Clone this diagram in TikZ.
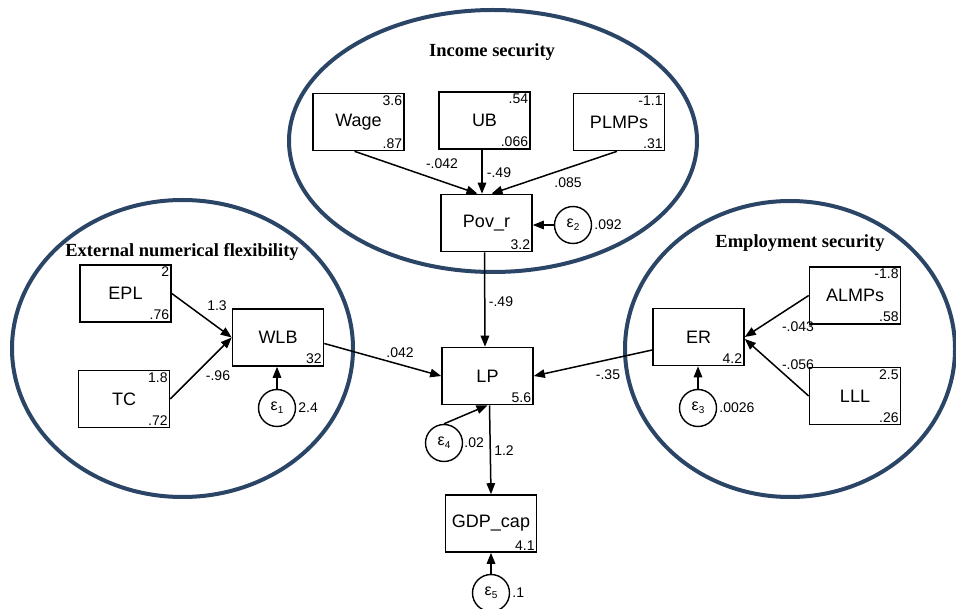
\documentclass[tikz,border=0pt]{standalone}
\usepackage{fontspec}
\setmainfont{Liberation Sans}
\newfontfamily\titlefont{Liberation Serif}
\usetikzlibrary{arrows.meta}
\definecolor{navy}{HTML}{2B4566}
\newcommand{\eps}[1]{{\fontsize{16}{16}\selectfont ε\raisebox{-0.35ex}{\fontsize{10}{10}\selectfont #1}}}
\tikzset{
  varbox/.style={draw, line width=1.6pt, minimum width=91pt, minimum height=57pt, inner sep=0pt, font=\fontsize{18}{18}\selectfont},
  tr/.style={anchor=north east, inner sep=2.5pt, font=\fontsize{14}{14}\selectfont},
  br/.style={anchor=south east, inner sep=2.5pt, font=\fontsize{14}{14}\selectfont},
  errc/.style={circle, draw, line width=1.4pt, minimum size=37pt, inner sep=0pt},
  conn/.style={line width=1.5pt, -{Triangle[length=11pt,width=8.5pt]}},
  lbl/.style={inner sep=0pt, font=\fontsize{14}{14}\selectfont},
  grp/.style={draw=navy, line width=4pt},
  ttl/.style={inner sep=0pt, font=\titlefont\bfseries\fontsize{18.5}{18.5}\selectfont}
}
\begin{document}
\begin{tikzpicture}[x=1pt,y=-1pt]
\useasboundingbox (0,0) rectangle (956,609);
% group ellipses
\draw[grp] (493,141) ellipse [x radius=204pt, y radius=131pt];
\draw[grp] (182.5,348.5) ellipse [x radius=170.5pt, y radius=148.5pt];
\draw[grp] (790,349) ellipse [x radius=165pt, y radius=148pt];
\node[ttl] (t1) at (492,52) {Income security};
\node[ttl] (t2) at (182,252) {External numerical flexibility};
\node[ttl] (t3) at (800,243) {Employment security};
% boxes
\node[varbox] (wage) at (358.5,122) {Wage};
\node[tr] (wage1) at (wage.north east) {3.6};
\node[br] (wage2) at (wage.south east) {.87};
\node[varbox] (ub) at (484.5,120.5) {UB};
\node[tr] (ub1) at (ub.north east) {.54};
\node[br] (ub2) at (ub.south east) {.066};
\node[varbox] (plmps) at (619,122) {PLMPs};
\node[tr] (plmps1) at (plmps.north east) {-1.1};
\node[br] (plmps2) at (plmps.south east) {.31};
\node[varbox] (pov) at (486.5,223) {Pov\_r};
\node[br] (pov2) at (pov.south east) {3.2};
\node[varbox] (epl) at (125.5,293.5) {EPL};
\node[tr] (epl1) at (epl.north east) {2};
\node[br] (epl2) at (epl.south east) {.76};
\node[varbox] (tc) at (124,399) {TC};
\node[tr] (tc1) at (tc.north east) {1.8};
\node[br] (tc2) at (tc.south east) {.72};
\node[varbox] (wlb) at (278,337.5) {WLB};
\node[br] (wlb2) at (wlb.south east) {32};
\node[varbox] (almps) at (855,295.5) {ALMPs};
\node[tr] (almps1) at (almps.north east) {-1.8};
\node[br] (almps2) at (almps.south east) {.58};
\node[varbox] (lll) at (855,396) {LLL};
\node[tr] (lll1) at (lll.north east) {2.5};
\node[br] (lll2) at (lll.south east) {.26};
\node[varbox] (er) at (698.5,337) {ER};
\node[br] (er2) at (er.south east) {4.2};
\node[varbox] (lp) at (487.5,376) {LP};
\node[br] (lp2) at (lp.south east) {5.6};
\node[varbox] (gdp) at (491,523.5) {GDP\_cap};
\node[br] (gdp2) at (gdp.south east) {4.1};
% error terms
\node[errc] (e1) at (277,408) {\eps{1}};
\node[errc] (e2) at (573,225) {\eps{2}};
\node[errc] (e3) at (698,408) {\eps{3}};
\node[errc] (e4) at (444,443) {\eps{4}};
\node[errc] (e5) at (491,593) {\eps{5}};
\node[lbl, anchor=west] (v1) at ([xshift=2pt]e1.east) {2.4};
\node[lbl, anchor=west] (v2) at ([xshift=2pt]e2.east) {.092};
\node[lbl, anchor=west] (v3) at ([xshift=2pt]e3.east) {.0026};
\node[lbl, anchor=west] (v4) at ([xshift=1pt]e4.east) {.02};
\node[lbl, anchor=west] (v5) at ([xshift=2pt]e5.east) {.1};
% connectors
\draw[conn] ([xshift=-4pt]wage.south) -- ([xshift=-9pt]pov.north);
\draw[conn] ([xshift=-2.5pt]ub.south) -- ([xshift=-4.5pt]pov.north);
\draw[conn] ([xshift=-2pt]plmps.south) -- ([xshift=5pt]pov.north);
\draw[conn] (e2.west) -- (pov.east |- e2.west);
\draw[conn] ([xshift=-2pt]pov.south) -- ([xshift=-2.5pt]lp.north);
\draw[conn] (epl.east) -- (wlb.west);
\draw[conn] (tc.east) -- (wlb.west);
\draw[conn] (e1.north) -- (e1.north |- wlb.south);
\draw[conn] ([yshift=-6pt]wlb.east) -- (lp.west);
\draw[conn] (almps.west) -- (er.east);
\draw[conn] (lll.west) -- ([yshift=-2pt]er.east);
\draw[conn] (e3.north) -- (e3.north |- er.south);
\draw[conn] ([yshift=-13pt]er.west) -- (lp.east);
\draw[conn] (e4.north) -- (lp.south);
\draw[conn] ([xshift=2pt]lp.south) -- (gdp.north);
\draw[conn] (e5.north) -- (gdp.south);
% path labels
\node[lbl] (p1) at (442,164) {-.042};
\node[lbl] (p2) at (499,173) {-.49};
\node[lbl] (p3) at (568,183) {.085};
\node[lbl] (p4) at (501,302) {-.49};
\node[lbl] (p5) at (217,306) {1.3};
\node[lbl] (p6) at (218,376) {-.96};
\node[lbl] (p7) at (400,353) {.042};
\node[lbl] (p8) at (608,375) {-.35};
\node[lbl] (p9) at (798,327) {-.043};
\node[lbl] (p10) at (798,365) {-.056};
\node[lbl] (p11) at (504,451) {1.2};
\end{tikzpicture}
\end{document}
